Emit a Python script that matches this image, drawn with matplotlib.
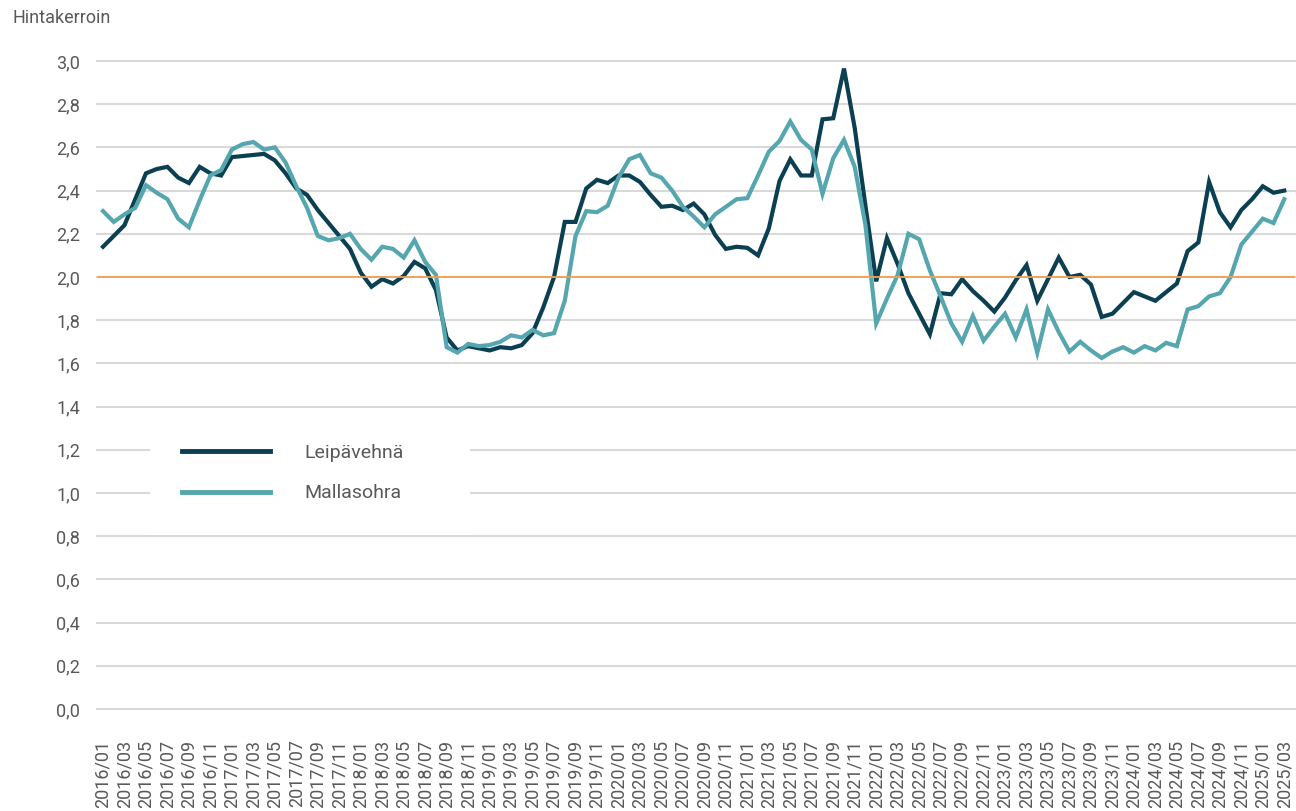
import matplotlib
matplotlib.use("Agg")
import matplotlib.pyplot as plt
import pandas as pd

months = list(pd.date_range("2016-01-01", periods=111, freq="MS").strftime("%Y/%m"))

leipavehna = [
    2.14, 2.19, 2.24, 2.36, 2.48, 2.50, 2.51, 2.46, 2.435, 2.51,
    2.48, 2.47, 2.555, 2.56, 2.565, 2.57, 2.54, 2.48, 2.41, 2.38,
    2.31, 2.25, 2.19, 2.13, 2.02, 1.955, 1.99, 1.97, 2.005, 2.07,
    2.04, 1.94, 1.72, 1.66, 1.68, 1.67, 1.66, 1.675, 1.67, 1.685,
    1.74, 1.86, 2.00, 2.255, 2.255, 2.41, 2.45, 2.435, 2.47, 2.47,
    2.44, 2.38, 2.325, 2.33, 2.31, 2.34, 2.29, 2.195, 2.13, 2.14,
    2.135, 2.10, 2.225, 2.445, 2.545, 2.47, 2.47, 2.73, 2.735, 2.965,
    2.69, 2.33, 1.98, 2.18, 2.06, 1.925, 1.83, 1.735, 1.925, 1.92,
    1.99, 1.935, 1.89, 1.84, 1.905, 1.985, 2.055, 1.89, 1.99, 2.09,
    2.00, 2.01, 1.965, 1.815, 1.83, 1.88, 1.93, 1.91, 1.89, 1.93,
    1.97, 2.12, 2.16, 2.44, 2.30, 2.23, 2.31, 2.36, 2.42, 2.39, 2.40,
]

mallasohra = [
    2.305, 2.255, 2.29, 2.32, 2.425, 2.39, 2.36, 2.27, 2.23, 2.355,
    2.47, 2.495, 2.59, 2.615, 2.625, 2.59, 2.60, 2.53, 2.42, 2.32,
    2.19, 2.17, 2.18, 2.20, 2.13, 2.08, 2.14, 2.13, 2.09, 2.17,
    2.07, 2.01, 1.675, 1.65, 1.69, 1.68, 1.685, 1.70, 1.73, 1.72,
    1.755, 1.73, 1.74, 1.89, 2.19, 2.305, 2.30, 2.33, 2.46, 2.545,
    2.565, 2.48, 2.46, 2.40, 2.325, 2.28, 2.23, 2.29, 2.325, 2.36,
    2.365, 2.47, 2.58, 2.63, 2.72, 2.635, 2.59, 2.385, 2.55, 2.635,
    2.51, 2.24, 1.785, 1.90, 2.01, 2.20, 2.175, 2.03, 1.91, 1.785,
    1.70, 1.82, 1.705, 1.77, 1.83, 1.72, 1.85, 1.65, 1.85, 1.745,
    1.655, 1.70, 1.66, 1.625, 1.655, 1.675, 1.65, 1.68, 1.66, 1.695,
    1.68, 1.85, 1.865, 1.91, 1.925, 2.00, 2.15, 2.21, 2.27, 2.25, 2.36,
]

reference_level = 2.0
y_ticks = [0.0, 0.2, 0.4, 0.6, 0.8, 1.0, 1.2, 1.4, 1.6, 1.8, 2.0, 2.2, 2.4, 2.6, 2.8, 3.0]

plt.rcParams['font.family'] = ['Roboto', 'DejaVu Sans']
text_col = '#595959'

W, H = 1296, 811
fig = plt.figure(figsize=(W / 100, H / 100), dpi=100)
ax = fig.add_axes([97 / W, (H - 709) / H, (1295 - 97) / W, 648 / H])

x = list(range(len(months)))
ax.plot(x, leipavehna, color='#0B3F52', lw=3.0, label='Leipävehnä', zorder=3,
        solid_joinstyle='miter')
ax.plot(x, mallasohra, color='#55A6AE', lw=3.0, label='Mallasohra', zorder=3,
        solid_joinstyle='miter')
ax.axhline(reference_level, color='#F2A04E', lw=1.3, zorder=4)

ax.set_xlim(-0.56, 111.0)
ax.set_ylim(0, 3.0)
ax.set_yticks(y_ticks)
ax.set_yticklabels([f"{v:.1f}".replace('.', ',') for v in y_ticks])
ax.set_xticks(x[::2])
ax.set_xticklabels(months[::2], rotation=90)
ax.tick_params(axis='y', length=0, pad=12, labelsize=13, labelcolor=text_col)
ax.tick_params(axis='x', length=0, pad=22, labelsize=13, labelcolor=text_col)

ax.grid(axis='y', color='#D9D9D9', lw=1.5)
for gl in ax.get_ygridlines():
    gl.set_clip_on(False)
ax.set_axisbelow(True)
for s in ax.spines.values():
    s.set_visible(False)

fig.text(12 / W, 1 - 18 / H, 'Hintakerroin', fontsize=13, color=text_col,
         va='center', ha='left')

# legend box: white fill hides the gridlines behind it
leg = ax.legend(loc='upper left',
                bbox_to_anchor=(150 / W, 1 - 412 / H, 320 / W, 0.0),
                bbox_transform=fig.transFigure, borderaxespad=0, mode='expand',
                fontsize=14, handlelength=4.5, handletextpad=1.8,
                labelspacing=1.15, borderpad=1.65, frameon=True,
                facecolor='white', edgecolor='none', framealpha=1,
                fancybox=False)
for t in leg.get_texts():
    t.set_color(text_col)
for lh in leg.get_lines():
    lh.set_linewidth(3.5)

fig.savefig('out.png', dpi=100)
